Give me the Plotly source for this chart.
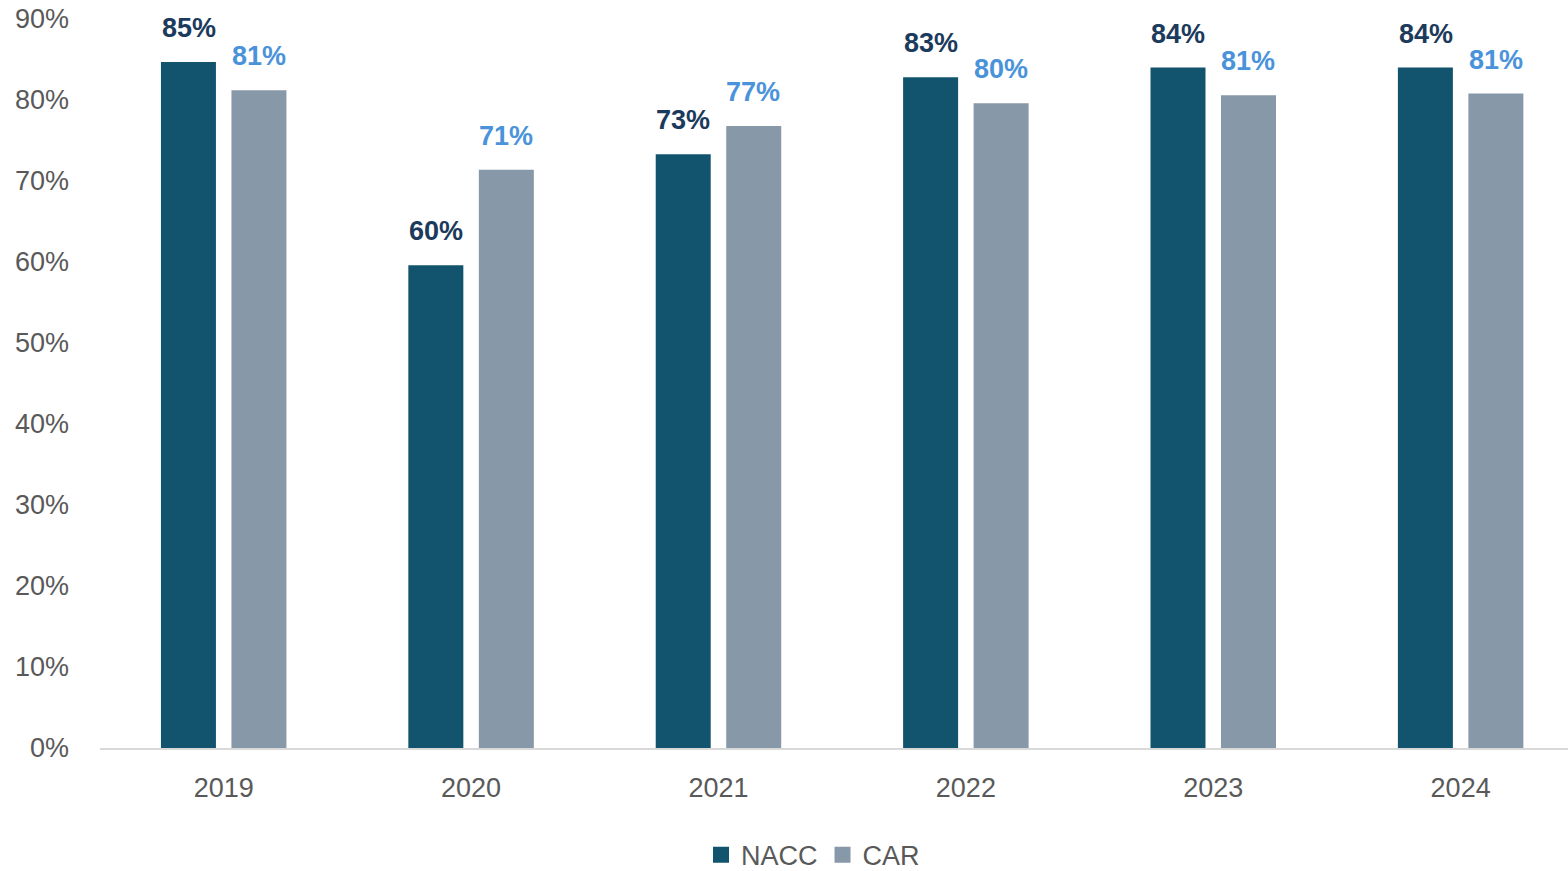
import plotly.graph_objects as go

years = ["2019", "2020", "2021", "2022", "2023", "2024"]
nacc = [84.7, 59.6, 73.3, 82.8, 84.0, 84.0]
car = [81.2, 71.4, 76.8, 79.6, 80.6, 80.8]
y_ticks = [0, 10, 20, 30, 40, 50, 60, 70, 80, 90]
y_tick_labels = [f"{v}%" for v in y_ticks]

font_family = "Liberation Sans, Arial, sans-serif"
nacc_color = "#12536D"
car_color = "#8798A9"
nacc_label = "#1B3A5C"
car_label = "#4A93DB"

fig = go.Figure()
fig.add_trace(go.Bar(name="NACC", x=years, y=nacc, marker=dict(color=nacc_color, line=dict(width=0)),
                     showlegend=False))
fig.add_trace(go.Bar(name="CAR", x=years, y=car, marker=dict(color=car_color, line=dict(width=0)),
                     showlegend=False))
# legend entries with larger square swatches
fig.add_trace(go.Scatter(name="NACC", x=[years[0]], y=[None], mode="markers",
                         marker=dict(symbol="square", size=18, color=nacc_color)))
fig.add_trace(go.Scatter(name="CAR", x=[years[0]], y=[None], mode="markers",
                         marker=dict(symbol="square", size=18, color=car_color)))

# data labels above bars (x given as category index)
offset_px = 35
for vals, shift, col in [(nacc, -offset_px, nacc_label), (car, offset_px, car_label)]:
    for i, v in enumerate(vals):
        fig.add_annotation(x=i, y=v, xref="x", yref="y", text=f"<b>{v:.0f}%</b>",
                           showarrow=False, xshift=shift, yshift=17, yanchor="bottom",
                           font=dict(size=27, color=col, family=font_family))

fig.update_layout(
    width=1568, height=871,
    margin=dict(l=100, r=0, t=19, b=123),
    paper_bgcolor="white", plot_bgcolor="white",
    barmode="group", bargap=0.43, bargroupgap=0.22,
    font=dict(family=font_family, size=27, color="#595959"),
    showlegend=True,
    legend=dict(orientation="h", x=0.5185, xanchor="center", xref="container",
                y=0.018, yanchor="middle", yref="container",
                itemsizing="trace",
                font=dict(size=27, color="#595959"), itemwidth=30, traceorder="normal"),
)
fig.update_yaxes(range=[0, 90], tickvals=y_ticks, ticktext=y_tick_labels,
                 showgrid=False, zeroline=False, showline=False, automargin=False,
                 ticklabeloverflow="allow",
                 ticklabelstandoff=30, tickfont=dict(size=27, color="#595959"))
fig.update_xaxes(type="category", range=[-0.5, 5.434],
                 showline=True, linecolor="#D9D9D9", linewidth=2, showgrid=False, automargin=False,
                 ticks="", ticklabelstandoff=15, tickfont=dict(size=27, color="#595959"))

fig.write_html("out.html", config={"displayModeBar": False},
               post_script="document.body.style.margin='0';")
